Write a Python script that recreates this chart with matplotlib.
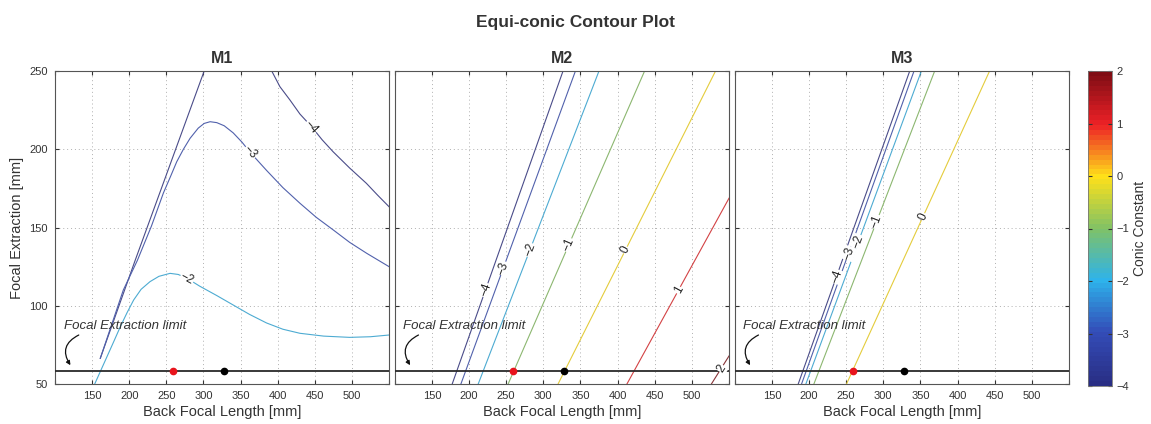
import numpy as np
import matplotlib
matplotlib.use('Agg')
import matplotlib.pyplot as plt
from matplotlib.colors import LinearSegmentedColormap, Normalize
from matplotlib.cm import ScalarMappable

plt.rcParams['font.family'] = ['Liberation Sans', 'DejaVu Sans']

# ---------------- colour scale (Conic Constant) ----------------
cbar_levels = [-4, -3, -2, -1, 0, 1, 2]
cbar_colors = [(0.16, 0.18, 0.52), (0.20, 0.30, 0.72), (0.18, 0.70, 0.92),
               (0.50, 0.76, 0.40), (1.00, 0.88, 0.10), (0.93, 0.13, 0.15),
               (0.50, 0.05, 0.08)]

# ---------------- common data ----------------
focal_limit = 58.3
red_point_x = 259
black_point_x = 328

# ---------------- M1 contours ----------------
m1_a_level = -4
m1_a_x = [161, 208, 301]
m1_a_y = [66.4, 129, 250]

m1_b_level = -4
m1_b_x = [392, 403, 416.5, 430, 445.7, 460, 474.7, 497, 519.6, 535, 550]
m1_b_y = [250, 240, 231.5, 222.5, 214.4, 206, 198.4, 188, 178.2, 170.5, 163.3]

m1_c_level = -3
m1_c_x = [161, 192, 211, 230, 246, 256, 264, 273, 282, 293, 301, 309, 318,
          328, 340, 352, 363, 385, 407, 430, 452, 475, 497, 520, 550]
m1_c_y = [66.4, 110, 129, 151, 172, 183, 192, 200, 207, 213.5, 216.5, 217.6,
          217, 215, 210.5, 204.5, 198, 186.5, 175.5, 165.5, 156.5, 148.4, 140.5, 133.5, 125]

m1_d_level = -2
m1_d_x = [153.5, 168, 180, 188, 197, 206, 216, 228, 240, 255, 266, 278, 295,
          318, 340, 362, 385, 407, 430, 462, 497, 525, 550]
m1_d_y = [50, 65.3, 78, 86.6, 95.5, 103.7, 110.5, 115.4, 118.8, 120.7, 120,
          117.5, 112.5, 106.5, 100.5, 94.5, 89, 85, 82.4, 80.6, 79.8, 80.2, 81.3]

m1_label_line = [1, 2, 3]          # index into M1 contour list
m1_label_x = [445.7, 363, 278]
m1_label_y = [214.4, 198, 117.5]

# ---------------- M2 contours (straight) ----------------
m2_levels = [-4, -3, -2, -1, 0, 1, 2]
m2_x0 = [177.4, 189.1, 212.4, 252.7, 319.9, 412.6, 526.3]
m2_y0 = [50, 50, 50, 50, 50, 50, 50]
m2_x1 = [326.6, 343.3, 375.0, 436.4, 531.9, 550.0, 550.0]
m2_y1 = [250, 250, 250, 250, 250, 168.7, 67.9]
m2_label_y = [110, 123.9, 135.6, 138.8, 135.6, 110, 60]

# ---------------- M3 contours (straight) ----------------
m3_levels = [-4, -3, -2, -1, 0]
m3_x0 = [185.5, 190.0, 195.8, 206.6, 250.5]
m3_y0 = [50, 50, 50, 50, 50]
m3_x1 = [335.6, 341.4, 351.3, 369.2, 443.1]
m3_y1 = [250, 250, 250, 250, 250]
m3_label_y = [118.6, 133.5, 140.9, 153.7, 156.9]

# ---------------- build colour map ----------------
norm = Normalize(vmin=-4, vmax=2)
cmap = LinearSegmentedColormap.from_list(
    'conic', list(zip([(v + 4) / 6 for v in cbar_levels], cbar_colors)), N=64)


def line_color(level):
    # thin contour strokes look paler / greyer in the reference
    c = np.array(cmap(norm(level))[:3])
    grey = np.array([0.62, 0.60, 0.58])
    return tuple(0.72 * c + 0.28 * grey)


W, H = 1151, 424
fig = plt.figure(figsize=(W / 100, H / 100), dpi=100)

panel_rects = [(55, 71, 389, 384), (394.7, 71, 729, 384), (734.7, 71, 1069, 384)]
axes = []
for (l, t, r, b) in panel_rects:
    ax = fig.add_axes([l / W, 1 - b / H, (r - l) / W, (b - t) / H])
    axes.append(ax)

tick_col = '#333333'


def fmt_level(v):
    return ('\u2212' + str(abs(v))) if v < 0 else str(v)


def put_label(ax, xs, ys, level, x, y):
    xs = np.asarray(xs, float)
    ys = np.asarray(ys, float)
    d = (xs - x) ** 2 + ((ys - y) * 2) ** 2
    i = int(np.argmin(d))
    i0 = max(i - 1, 0)
    i1 = min(i + 1, len(xs) - 1)
    ang = np.degrees(np.arctan2(ys[i1] - ys[i0], xs[i1] - xs[i0]))
    if ang > 90:
        ang -= 180
    if ang < -90:
        ang += 180
    ax.text(x, y, fmt_level(level), fontsize=8.5, color='#222222',
            ha='center', va='center', rotation=ang,
            transform_rotates_text=True, rotation_mode='anchor',
            bbox=dict(fc='white', ec='none', pad=0.3), zorder=4)


def common(ax, show_y):
    ax.set_xlim(100, 550)
    ax.set_ylim(50, 250)
    ax.set_xticks(np.arange(100, 551, 50))
    ax.set_xticklabels([''] + [str(v) for v in range(150, 501, 50)] + [''])
    ax.set_yticks(np.arange(50, 251, 50))
    if show_y:
        ax.set_yticklabels([str(v) for v in range(50, 251, 50)])
        ax.set_ylabel('Focal Extraction [mm]', fontsize=10.5, color='#333333', labelpad=4)
    else:
        ax.set_yticklabels([])
    ax.grid(True, linestyle=(0, (1, 3)), color='#b0b0b0', linewidth=0.7)
    ax.tick_params(direction='in', length=3, top=True, right=True,
                   labelsize=8, colors=tick_col, pad=5)
    for s in ax.spines.values():
        s.set_color('#555555')
        s.set_linewidth(0.8)
    ax.set_xlabel('Back Focal Length [mm]', fontsize=10.5, color='#333333', labelpad=3)
    ax.axhline(focal_limit, color='#2a2a2a', lw=1.3, zorder=3)
    ax.plot([red_point_x], [focal_limit], 'o', color='#e8141c', ms=4.5, zorder=5)
    ax.plot([black_point_x], [focal_limit], 'o', color='black', ms=4.5, zorder=5)
    ax.text(111.8, 85, 'Focal Extraction limit', fontsize=9.5, style='italic',
            color='#333333', ha='left', va='baseline', zorder=5)
    ax.annotate('', xy=(120.8, 62), xytext=(132, 81.3),
                arrowprops=dict(arrowstyle='-|>', connectionstyle='arc3,rad=0.55',
                                color='#111111', lw=0.9, mutation_scale=6,
                                shrinkA=0, shrinkB=0), zorder=5)


# ---- M1 ----
ax = axes[0]
m1_lines = [(m1_a_level, m1_a_x, m1_a_y), (m1_b_level, m1_b_x, m1_b_y),
            (m1_c_level, m1_c_x, m1_c_y), (m1_d_level, m1_d_x, m1_d_y)]
for lev, xs, ys in m1_lines:
    ax.plot(xs, ys, color=line_color(lev), lw=0.8, zorder=2)
for li, lx, ly in zip(m1_label_line, m1_label_x, m1_label_y):
    lev, xs, ys = m1_lines[li]
    put_label(ax, xs, ys, lev, lx, ly)
common(ax, True)
ax.set_title('M1', fontsize=11.5, fontweight='bold', color='#333333', pad=6)

# ---- M2 ----
ax = axes[1]
for lev, x0, y0, x1, y1, ly in zip(m2_levels, m2_x0, m2_y0, m2_x1, m2_y1, m2_label_y):
    ax.plot([x0, x1], [y0, y1], color=line_color(lev), lw=0.8, zorder=2)
    lx = np.interp(ly, [y0, y1], [x0, x1])
    put_label(ax, [x0, x1], [y0, y1], lev, lx, ly)
common(ax, False)
ax.set_title('M2', fontsize=11.5, fontweight='bold', color='#333333', pad=6)

# ---- M3 ----
ax = axes[2]
for lev, x0, y0, x1, y1, ly in zip(m3_levels, m3_x0, m3_y0, m3_x1, m3_y1, m3_label_y):
    ax.plot([x0, x1], [y0, y1], color=line_color(lev), lw=0.8, zorder=2)
    lx = np.interp(ly, [y0, y1], [x0, x1])
    put_label(ax, [x0, x1], [y0, y1], lev, lx, ly)
common(ax, False)
ax.set_title('M3', fontsize=11.5, fontweight='bold', color='#333333', pad=6)

# ---- colour bar ----
cax = fig.add_axes([1088 / W, 1 - 386 / H, 24 / W, 315 / H])
sm = ScalarMappable(norm=norm, cmap=cmap)
cb = fig.colorbar(sm, cax=cax, ticks=cbar_levels)
cb.ax.set_yticklabels([fmt_level(v) for v in cbar_levels])
cb.ax.tick_params(direction='in', length=3, left=True, right=True,
                  labelsize=8, colors=tick_col, pad=3)
cb.outline.set_edgecolor('#777777')
cb.outline.set_linewidth(0.6)
cb.set_label('Conic Constant', fontsize=10, color='#333333', labelpad=3)

fig.text(0.5, 1 - 22 / H, 'Equi-conic Contour Plot', ha='center', va='center',
         fontsize=12.5, fontweight='bold', color='#333333')

fig.savefig('out.png', dpi=100)
